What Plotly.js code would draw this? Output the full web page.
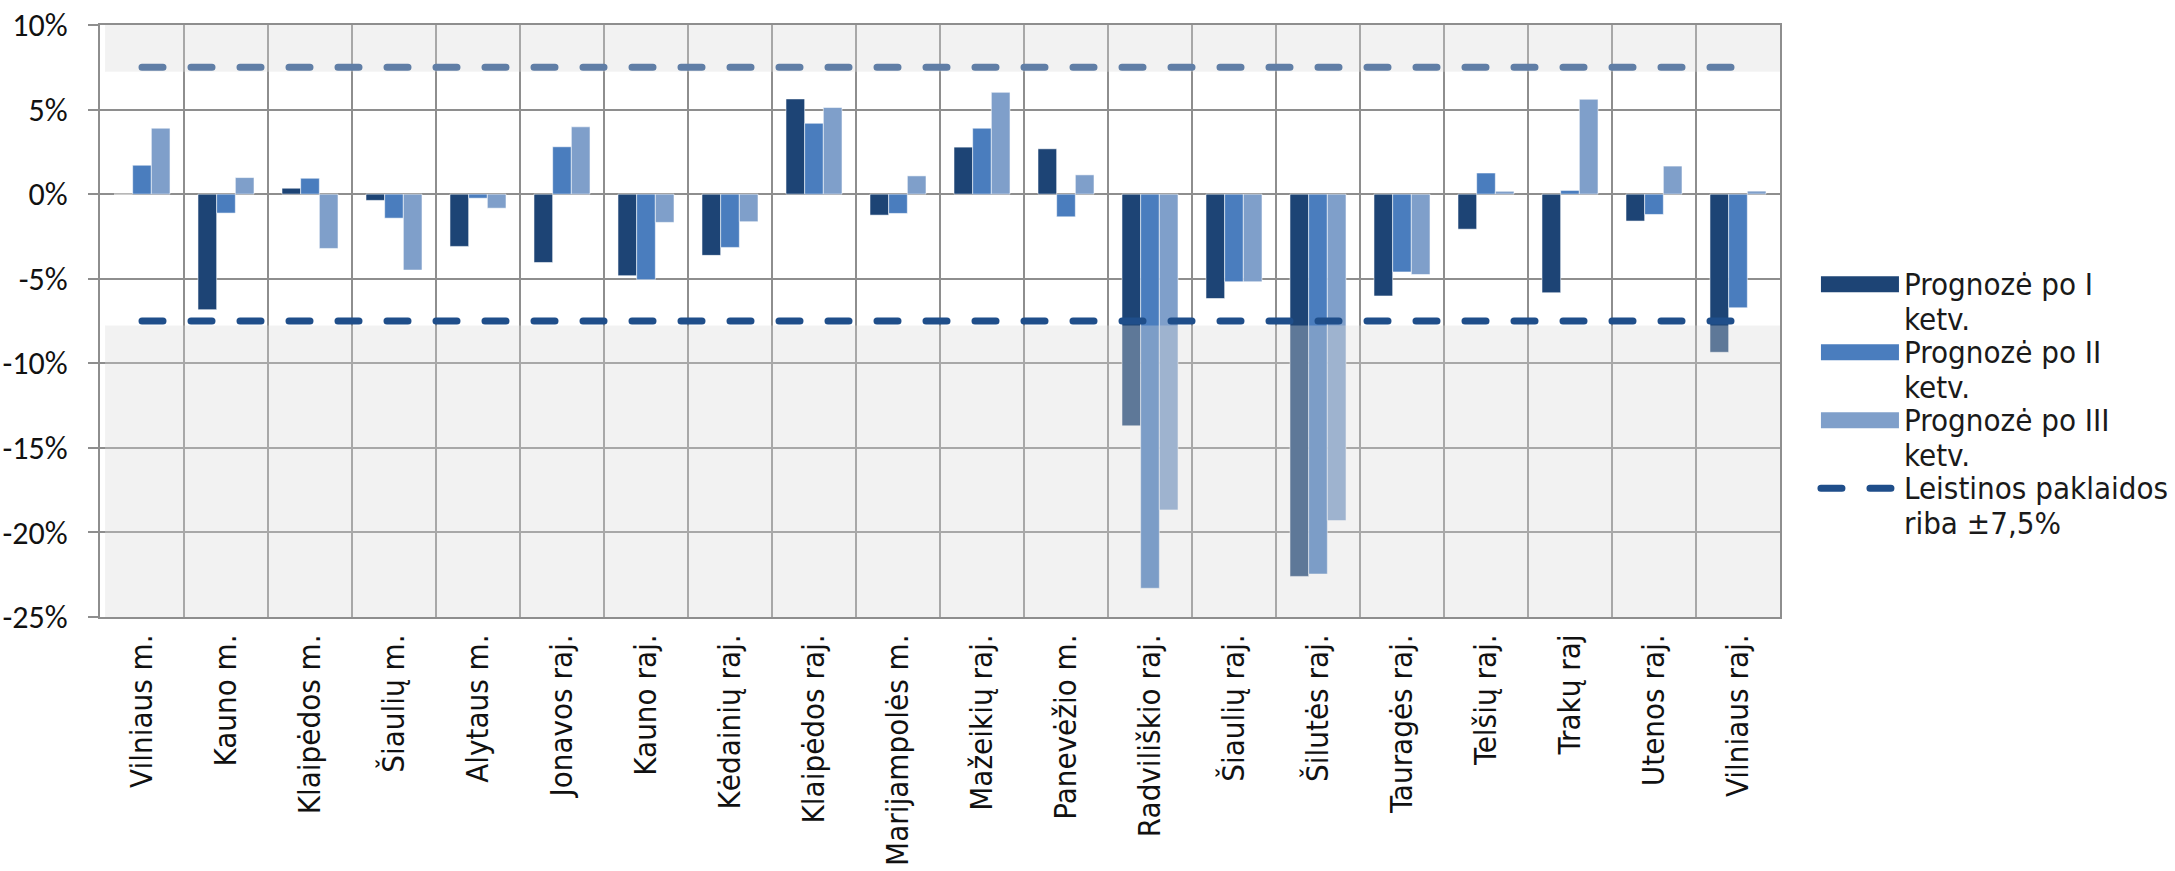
<!DOCTYPE html>
<html>
<head>
<meta charset="utf-8">
<script src="https://cdn.plot.ly/plotly-3.0.1.min.js"></script>
<style>html,body{margin:0;padding:0;background:#fff;}#chart{width:2175px;height:871px;}</style>
</head>
<body>
<div id="chart"></div>
<script>
const categories = ["Vilniaus m.","Kauno m.","Klaipėdos m.","Šiaulių m.","Alytaus m.","Jonavos raj.","Kauno raj.","Kėdainių raj.","Klaipėdos raj.","Marijampolės m.","Mažeikių raj.","Panevėžio m.","Radviliškio raj.","Šiaulių raj.","Šilutės raj.","Tauragės raj.","Telšių raj.","Trakų raj","Utenos raj.","Vilniaus raj."];
const forecastQ1 = [0.0,-6.83,0.35,-0.37,-3.09,-4.04,-4.82,-3.62,5.63,-1.24,2.78,2.68,-13.7,-6.17,-22.6,-6.02,-2.07,-5.83,-1.59,-9.35];
const forecastQ2 = [1.71,-1.12,0.94,-1.42,-0.24,2.80,-5.06,-3.15,4.19,-1.14,3.90,-1.34,-23.3,-5.18,-22.46,-4.60,1.25,0.22,-1.20,-6.72];
const forecastQ3 = [3.90,0.98,-3.21,-4.49,-0.83,3.98,-1.67,-1.63,5.12,1.08,6.02,1.14,-18.67,-5.18,-19.3,-4.75,0.17,5.61,1.66,0.18];
const limitUpper = [7.5,7.5,7.5,7.5,7.5,7.5,7.5,7.5,7.5,7.5,7.5,7.5,7.5,7.5,7.5,7.5,7.5,7.5,7.5,7.5];
const limitLower = [-7.5,-7.5,-7.5,-7.5,-7.5,-7.5,-7.5,-7.5,-7.5,-7.5,-7.5,-7.5,-7.5,-7.5,-7.5,-7.5,-7.5,-7.5,-7.5,-7.5];
const yTickValues = [10,5,0,-5,-10,-15,-20,-25];
const yTickLabels = ["10%","5%","0%","-5%","-10%","-15%","-20%","-25%"];
const seriesNames = ["Prognozė po I<br>ketv.","Prognozė po II<br>ketv.","Prognozė po III<br>ketv.","Leistinos paklaidos<br>riba ±7,5%"];
const seriesColors = ["#1d4475","#4a7dbe","#7f9fca","#1f4e8a"];

const labelFont = "'DejaVu Sans Condensed', 'DejaVu Sans', sans-serif";
const tickFont = "Carlito, 'Liberation Sans Narrow', 'DejaVu Sans Condensed', sans-serif";
const gridColor = "#8e8e8e";

const barSeries = [forecastQ1, forecastQ2, forecastQ3];
const traces = [];
barSeries.forEach((vals, i) => {
  traces.push({
    type: "bar", x: categories, y: vals, name: seriesNames[i],
    marker: {color: seriesColors[i], line: {color: "rgba(255,255,255,0.55)", width: 1}},
    showlegend: false, hoverinfo: "x+y"
  });
});
traces.push({
  type: "scatter", mode: "lines", x: categories, y: limitUpper, name: seriesNames[3],
  line: {color: seriesColors[3], width: 7, dash: "21px,28px"},
  legendgroup: "lim", showlegend: false
});
traces.push({
  type: "scatter", mode: "lines", x: categories, y: limitLower, name: seriesNames[3],
  line: {color: seriesColors[3], width: 7, dash: "21px,28px"},
  legendgroup: "lim", showlegend: false
});
// legend entries
barSeries.forEach((vals, i) => {
  traces.push({
    type: "scatter", mode: "lines", x: [categories[0]], y: [null], name: seriesNames[i],
    line: {color: seriesColors[i], width: 16}, showlegend: true, hoverinfo: "skip"
  });
});
traces.push({
  type: "scatter", mode: "lines", x: [categories[0]], y: [null], name: seriesNames[3],
  line: {color: seriesColors[3], width: 7, dash: "21px,28px"}, showlegend: true, hoverinfo: "skip"
});

const layout = {
  width: 2175, height: 871,
  margin: {l: 100, r: 395, t: 25, b: 254},
  paper_bgcolor: "#ffffff", plot_bgcolor: "#ffffff",
  barmode: "group", bargap: 0.333, bargroupgap: 0,
  showlegend: true,
  legend: {
    x: 1.0214, xanchor: "left", y: 0.604, yanchor: "top", valign: "top",
    font: {family: labelFont, size: 28, color: "#1a1a1a"},
    itemwidth: 78, bgcolor: "rgba(0,0,0,0)", borderwidth: 0,
    traceorder: "normal", itemclick: false, itemdoubleclick: false
  },
  xaxis: {
    type: "category", tickson: "boundaries", showgrid: true,
    gridcolor: gridColor, gridwidth: 2,
    showline: true, mirror: true, linecolor: gridColor, linewidth: 2,
    ticks: "", tickangle: -90, ticklabelstandoff: 3,
    tickfont: {family: labelFont, size: 31, color: "#111111"},
    fixedrange: true
  },
  yaxis: {
    range: [-25, 10], tickvals: yTickValues, ticktext: yTickLabels,
    showgrid: true, gridcolor: gridColor, gridwidth: 2,
    zeroline: true, zerolinecolor: gridColor, zerolinewidth: 2,
    showline: true, mirror: true, linecolor: gridColor, linewidth: 2,
    ticks: "outside", ticklen: 10, tickwidth: 2, tickcolor: gridColor,
    ticklabelstandoff: 14,
    tickfont: {family: tickFont, size: 32, color: "#111111"},
    fixedrange: true
  },
  shapes: [
    {type: "rect", layer: "above", xref: "paper", yref: "y", x0: 0.003, x1: 1, y0: 7.23, y1: 10,
     fillcolor: "rgba(217,217,217,0.35)", line: {width: 0}},
    {type: "rect", layer: "above", xref: "paper", yref: "y", x0: 0.003, x1: 1, y0: -25, y1: -7.76,
     fillcolor: "rgba(217,217,217,0.35)", line: {width: 0}}
  ]
};

Plotly.newPlot("chart", traces, layout, {displayModeBar: false, staticPlot: true}).then(gd => {
  gd.querySelectorAll(".scatterlayer .trace path.js-line").forEach(p => {
    p.style.strokeLinecap = "round";
  });
  gd.querySelectorAll(".legend [clip-path]").forEach(el => el.removeAttribute("clip-path"));
  const groups = Array.from(gd.querySelectorAll(".legend .traces"));
  let y0 = null;
  groups.forEach((g, i) => {
    g.querySelectorAll("path.js-line").forEach(p => {
      if (i < 3) { p.style.strokeWidth = "16px"; }
      else { p.style.strokeLinecap = "round"; }
    });
    const txt = g.querySelector("text.legendtext");
    if (txt) txt.style.fontSize = "31px";
    g.querySelectorAll("text tspan.line").forEach((t, k) => {
      if (k > 0) t.setAttribute("dy", "1.13em");
    });
    const tr = g.getAttribute("transform") || "";
    const m = tr.match(/translate\(\s*([-\d.]+)[ ,]+([-\d.]+)\s*\)/);
    if (m) {
      if (y0 === null) y0 = parseFloat(m[2]);
      g.setAttribute("transform", "translate(" + m[1] + "," + (y0 + i * 68) + ")");
    }
  });
});
</script>
</body>
</html>
